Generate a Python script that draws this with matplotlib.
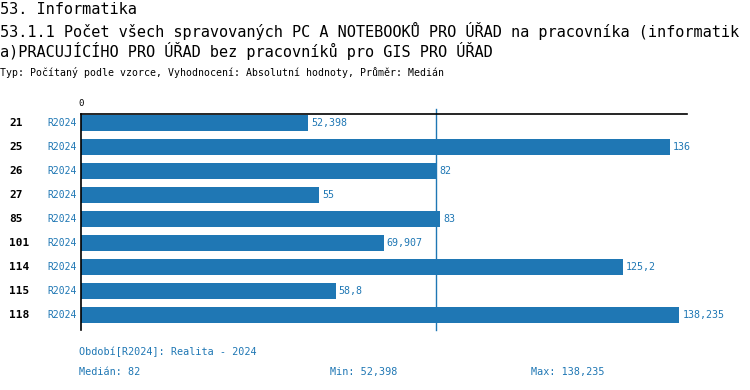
import matplotlib
matplotlib.use("Agg")
import matplotlib.pyplot as plt

# data
codes = ["21", "25", "26", "27", "85", "101", "114", "115", "118"]
values = [52.398, 136, 82, 55, 83, 69.907, 125.2, 58.8, 138.235]
value_labels = ["52,398", "136", "82", "55", "83", "69,907", "125,2", "58,8", "138,235"]
period = "R2024"
median_value = 82
x_max = 140

BLUE = "#1f77b4"
MONO = "DejaVu Sans Mono"
W, H = 750, 390

fig = plt.figure(figsize=(W / 100, H / 100), dpi=100)


def px(x, y):
    return x / W, 1 - y / H


# header texts
fig.text(*px(0, 10), "53. Informatika", family=MONO, fontsize=11, va="center")
fig.text(*px(0, 31), "53.1.1 Počet všech spravovaných PC A NOTEBOOKŮ PRO ÚŘAD na pracovníka (informatik",
         family=MONO, fontsize=11, va="center")
fig.text(*px(0, 51), "a)PRACUJÍCÍHO PRO ÚŘAD bez pracovníků pro GIS PRO ÚŘAD",
         family=MONO, fontsize=11, va="center")
fig.text(*px(0, 73), "Typ: Počítaný podle vzorce, Vyhodnocení: Absolutní hodnoty, Průměr: Medián",
         family=MONO, fontsize=7.1, va="center")

# plot area
left, right, top, bottom = 81, 687, 114, 330
ax = fig.add_axes([left / W, 1 - bottom / H, (right - left) / W, (bottom - top) / H])
rows = list(range(len(codes)))
ax.barh(rows, values, height=0.66, color=BLUE)
ax.set_xlim(0, x_max)
ax.set_ylim(len(codes) - 0.375, -0.375)

for sp in ["right", "bottom"]:
    ax.spines[sp].set_visible(False)
ax.spines["left"].set_linewidth(1.2)
ax.spines["top"].set_linewidth(1.2)
ax.set_xticks([])
ax.set_yticks([])

# median line
ax.plot([median_value, median_value], [-0.58, len(codes) - 0.375], color=BLUE,
        linewidth=1, clip_on=False)

ax.text(0, -0.8, "0", family=MONO, fontsize=6.5, ha="center", va="center")

for i, (v, lab, code) in enumerate(zip(values, value_labels, codes)):
    ax.text(v + 0.7, i, lab, family=MONO, fontsize=7.2, color=BLUE, va="center", ha="left")
    fig.text(*px(9, 123 + 24 * i), code, family=MONO, fontsize=8, weight="bold", va="center")
    fig.text(*px(77, 123 + 24 * i), period, family=MONO, fontsize=7, color=BLUE,
             va="center", ha="right")

# footer
fig.text(*px(79, 352), "Období[R2024]: Realita - 2024", family=MONO, fontsize=7.3, color=BLUE, va="center")
fig.text(*px(79, 372), "Medián: 82", family=MONO, fontsize=7.3, color=BLUE, va="center")
fig.text(*px(330, 372), "Min: 52,398", family=MONO, fontsize=7.3, color=BLUE, va="center")
fig.text(*px(531, 372), "Max: 138,235", family=MONO, fontsize=7.3, color=BLUE, va="center")

fig.savefig("out.png", dpi=100)
